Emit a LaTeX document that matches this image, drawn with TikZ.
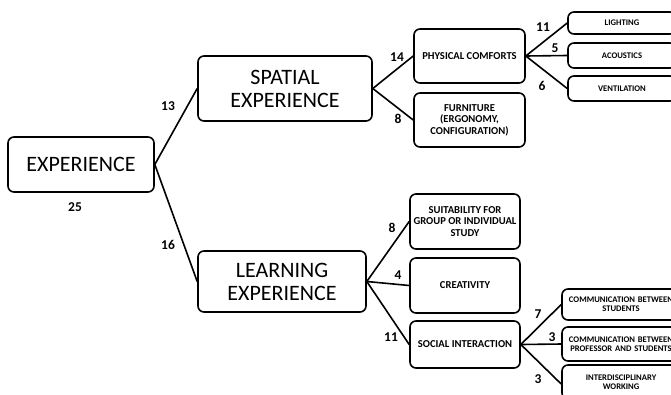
\documentclass[tikz,border=0pt]{standalone}
\usepackage{fontspec}
\setmainfont{Carlito}
\begin{document}
\begin{tikzpicture}[x=1pt,y=-1pt,
  box/.style={draw=black,line width=1.6pt,rounded corners=6pt,align=center,inner sep=1pt,fill=white},
  big/.style={box,font=\fontsize{22}{23}\selectfont},
  mid/.style={box,font=\bfseries\fontsize{10.6}{11.6}\selectfont},
  sml/.style={box,font=\bfseries\fontsize{8.6}{9.4}\selectfont},
  num/.style={font=\bfseries\fontsize{13.5}{13.5}\selectfont,inner sep=0pt},
  link/.style={line width=1.6pt}]
\useasboundingbox (0,0) rectangle (671,394);
\clip (0,0) rectangle (671,394);
% main boxes
\node[big,minimum width=146pt,minimum height=55pt] (exp) at (81,164.5) {EXPERIENCE};
\node[big,minimum width=174pt,minimum height=65pt] (spat) at (285,88.5) {SPATIAL\\EXPERIENCE};
\node[big,minimum width=168pt,minimum height=61pt] (learn) at (282,281.5) {LEARNING\\EXPERIENCE};
% spatial children
\node[mid,minimum width=111pt,minimum height=54pt] (phys) at (469.5,56) {PHYSICAL COMFORTS};
\node[mid,minimum width=111pt,minimum height=54pt] (furn) at (469.5,120) {FURNITURE\\(ERGONOMY,\\CONFIGURATION)};
% physical comforts children
\node[sml,minimum width=108pt,minimum height=22pt] (light) at (622,23) {LIGHTING};
\node[sml,minimum width=108pt,minimum height=25pt] (acou) at (622,55.5) {ACOUSTICS};
\node[sml,minimum width=108pt,minimum height=25pt] (vent) at (622,88.5) {VENTILATION};
% learning children
\node[mid,minimum width=110pt,minimum height=55pt] (suit) at (465,221.5) {SUITABILITY FOR\\GROUP OR INDIVIDUAL\\STUDY};
\node[mid,minimum width=110pt,minimum height=55pt] (crea) at (465,285.5) {CREATIVITY};
\node[mid,minimum width=110pt,minimum height=47pt] (soc) at (465,344.5) {SOCIAL INTERACTION};
% social children
\node[sml,minimum width=118pt,minimum height=31pt,text width=116pt] (cs) at (621,304.5) {COMMUNICATION BETWEEN\\STUDENTS};
\node[sml,minimum width=118pt,minimum height=34pt,text width=116pt] (cp) at (621,344) {COMMUNICATION BETWEEN\\PROFESSOR AND STUDENTS};
\node[sml,minimum width=118pt,minimum height=34pt,text width=116pt] (cid) at (621,382) {INTERDISCIPLINARY\\WORKING};
% connectors
\draw[link] (exp.east) -- (spat.west);
\draw[link] (exp.east) -- (learn.west);
\draw[link] (spat.east) -- (phys.west);
\draw[link] (spat.east) -- (furn.west);
\draw[link] (phys.east) -- (light.west);
\draw[link] (phys.east) -- (acou.west);
\draw[link] (phys.east) -- (vent.west);
\draw[link] (learn.east) -- (suit.west);
\draw[link] (learn.east) -- (crea.west);
\draw[link] (learn.east) -- (soc.west);
\draw[link] (soc.east) -- (cs.west);
\draw[link] (soc.east) -- (cp.west);
\draw[link] (soc.east) -- ([yshift=-2pt]cid.west);
% numbers
\node[num] (n25) at (75,207) {25};
\node[num] (n13) at (168,106) {13};
\node[num] (n16) at (168,245) {16};
\node[num] (n14) at (397,57) {14};
\node[num] (n8a) at (398,119) {8};
\node[num] (n11a) at (543,27) {11};
\node[num] (n5) at (555,48) {5};
\node[num] (n6) at (542,86) {6};
\node[num] (n8b) at (392,228) {8};
\node[num] (n4) at (398,275) {4};
\node[num] (n11b) at (391,337) {11};
\node[num] (n7) at (538,314) {7};
\node[num] (n3a) at (552,337) {3};
\node[num] (n3b) at (538,379) {3};
\end{tikzpicture}
\end{document}
